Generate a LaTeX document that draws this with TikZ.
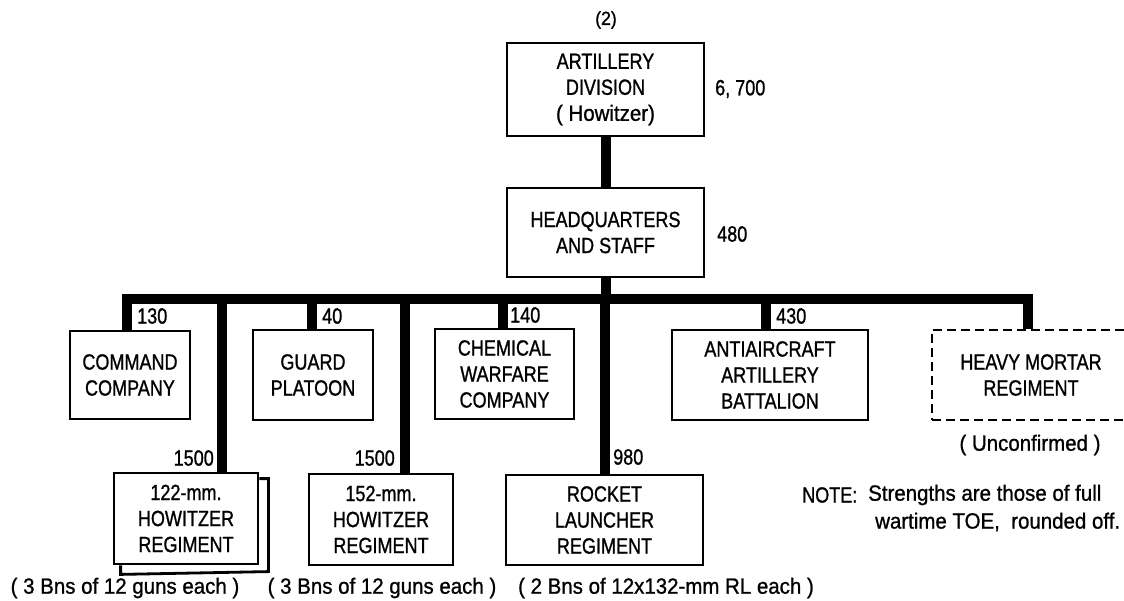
\documentclass[tikz,border=0pt]{standalone}
\usepackage{fontspec}
\setmainfont{Liberation Sans}[FakeStretch=0.82,FakeBold=1.0]
\newfontfamily\lcfont{Liberation Sans}[FakeStretch=0.93,FakeBold=1.0]
\newcommand{\boxfont}{\fontsize{22}{26}\selectfont}
\newcommand{\smallfnt}{\fontsize{19}{21}\selectfont}
\begin{document}
\begin{tikzpicture}[x=1pt,y=-1pt,
  box/.style={draw,line width=2.8pt,align=center,inner sep=0pt,font=\boxfont},
  dbox/.style={box,dash pattern=on 9pt off 5pt},
  bar/.style={line width=10pt},
  lbl/.style={inner sep=0pt,font=\boxfont},
  lc/.style={inner sep=0pt,font=\boxfont\lcfont},
]
\useasboundingbox (0,0) rectangle (1124,601);

% top
\node[inner sep=0pt,font=\smallfnt\lcfont] (num) at (606,20) {(2)};
\node[box,minimum width=197pt,minimum height=93pt] (div) at (605.5,89.5) {ARTILLERY\\DIVISION\\{\lcfont( Howitzer)}};
\node[lbl,anchor=west] (divn) at (715,89) {6, 700};
\node[box,minimum width=197pt,minimum height=89pt] (hq) at (605.5,232.5) {HEADQUARTERS\\AND STAFF};
\node[lbl,anchor=west] (hqn) at (717,234) {480};

% upper row
\node[box,minimum width=120pt,minimum height=88pt] (cmd) at (130,375) {COMMAND\\COMPANY};
\node[box,minimum width=120pt,minimum height=90pt] (grd) at (313,375) {GUARD\\PLATOON};
\node[box,minimum width=139pt,minimum height=90pt] (chem) at (504.5,374) {CHEMICAL\\WARFARE\\COMPANY};
\node[box,minimum width=196pt,minimum height=90pt] (aa) at (770,375) {ANTIAIRCRAFT\\ARTILLERY\\BATTALION};
\node[dbox,minimum width=198pt,minimum height=90pt] (hm) at (1031,375) {HEAVY MORTAR\\REGIMENT};
\node[lc] (unc) at (1030,445) {( Unconfirmed )};

% lower row
\node[box,minimum width=144pt,minimum height=91pt] (h122) at (186,518.5) {122-mm.\\HOWITZER\\REGIMENT};
\draw[line width=2.8pt] ([shift={(0,7)}]h122.north east) -- ++(9,0) -- ++(0,93)
  -- ([shift={(8,9)}]h122.south west) -- ++(0,-9);
\node[box,minimum width=144pt,minimum height=91pt] (h152) at (381,519.5) {152-mm.\\HOWITZER\\REGIMENT};
\node[box,minimum width=197pt,minimum height=90pt] (rl) at (604.5,520) {ROCKET\\LAUNCHER\\REGIMENT};

% connectors
\coordinate (bL) at (127,299);
\coordinate (bR) at (1028,299);
\coordinate (d122) at (222,299);
\coordinate (dgrd) at (311.5,299);
\coordinate (d152) at (405,299);
\coordinate (dchem) at (502.5,299);
\coordinate (drl) at (604.5,299);
\coordinate (daa) at (765.5,299);
\draw[bar] (div.south) -- (hq.north);
\draw[bar] (hq.south) -- (hq.south |- bL);
\draw[bar,line join=miter] (cmd.north -| bL) -- (bL) -- (bR) -- (bR |- hm.north);
\draw[bar] (d122) -- (d122 |- h122.north);
\draw[bar] (dgrd) -- (dgrd |- grd.north);
\draw[bar] (d152) -- (d152 |- h152.north);
\draw[bar] (dchem) -- (dchem |- chem.north);
\draw[bar] (drl) -- (drl |- rl.north);
\draw[bar] (daa) -- (daa |- aa.north);

% strength labels
\node[lbl,anchor=west] (n130) at (137,316) {130};
\node[lbl,anchor=west] (n40) at (322,316) {40};
\node[lbl,anchor=west] (n140) at (510,315) {140};
\node[lbl,anchor=west] (n430) at (776,316) {430};
\node[lbl,anchor=east] (n1500a) at (214,458) {1500};
\node[lbl,anchor=east] (n1500b) at (395,458) {1500};
\node[lbl,anchor=west] (n980) at (613,457) {980};

% captions
\node[lc] (cap1) at (125,588) {( 3 Bns of 12 guns each )};
\node[lc] (cap2) at (382,588) {( 3 Bns of 12 guns each )};
\node[lc] (cap3) at (666,588) {( 2 Bns of 12x132-mm RL each )};

% note
\node[lbl,anchor=west] (note) at (802,495) {NOTE:};
\node[lc,anchor=west] (note1) at (868,495) {Strengths are those of full};
\node[lc,anchor=west] (note2) at (875,522) {wartime TOE,\ \ rounded off.};
\end{tikzpicture}
\end{document}
